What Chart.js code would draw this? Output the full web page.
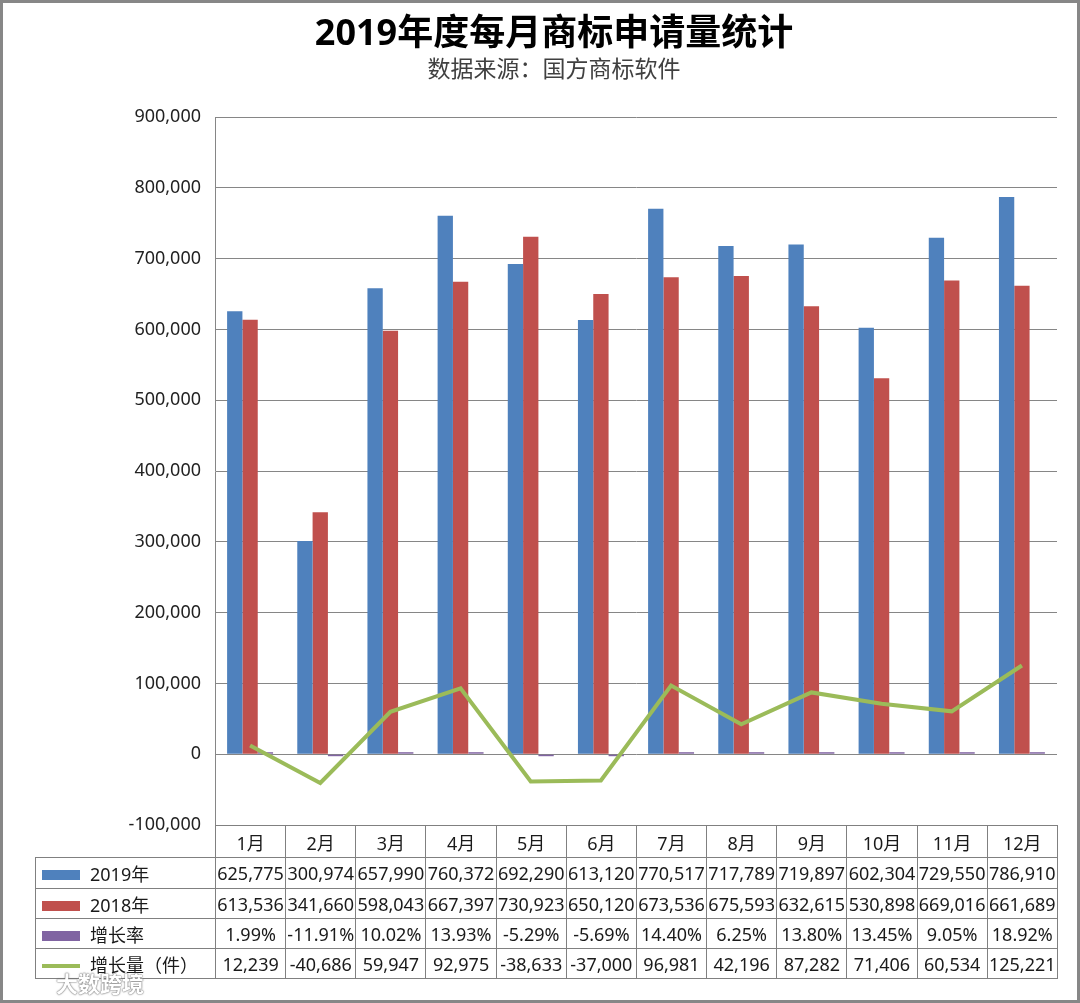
<!DOCTYPE html>
<html>
<head>
<meta charset="utf-8">
<script src="https://cdn.jsdelivr.net/npm/chart.js@4.4.0/dist/chart.umd.min.js"></script>
<style>
html, body { margin: 0; padding: 0; background: #fff; }
#wrap { position: relative; width: 1080px; height: 1003px; overflow: hidden; font-family: "Noto Sans", "Noto Sans CJK SC", sans-serif; }
#c { position: absolute; left: 0; top: 0; }
#frame { position: absolute; left: 0; top: 0; width: 1080px; height: 1003px; box-sizing: border-box; border: 3px solid #878787; pointer-events: none; }
#tbl { position: absolute; border-collapse: collapse; table-layout: fixed; font-size: 18px; color: #1a1a1a; }
#tbl td { border: 1px solid #808080; padding: 0; text-align: center; white-space: nowrap; overflow: visible; }
#tbl td.blank { border: none; border-bottom: 1px solid #808080; }
#tbl td.lab { text-align: left; padding-left: 6px; }
.key { display: inline-block; width: 38px; height: 10px; vertical-align: middle; margin-right: 10px; position: relative; top: -1px; }
.key.line { height: 4px; }
#mark { position: absolute; left: 56px; top: 966px; font-size: 22px; font-weight: bold; color: #fff; text-shadow: 0 0 2px #666, 0 0 1px #666; }
</style>
</head>
<body>
<div id="wrap">
  <canvas id="c" width="1080" height="1003"></canvas>
  <table id="tbl"></table>
  <div id="mark">大数跨境</div>
  <div id="frame"></div>
</div>
<script>
// data
var months = ['1月', '2月', '3月', '4月', '5月', '6月', '7月', '8月', '9月', '10月', '11月', '12月'];
var apps2019 = [625775, 300974, 657990, 760372, 692290, 613120, 770517, 717789, 719897, 602304, 729550, 786910];
var apps2018 = [613536, 341660, 598043, 667397, 730923, 650120, 673536, 675593, 632615, 530898, 669016, 661689];
var growthRate = [1.99, -11.91, 10.02, 13.93, -5.29, -5.69, 14.40, 6.25, 13.80, 13.45, 9.05, 18.92];
var growthCount = [12239, -40686, 59947, 92975, -38633, -37000, 96981, 42196, 87282, 71406, 60534, 125221];
var yMin = -100000, yMax = 900000, yStep = 100000;

var seriesNames = ['2019年', '2018年', '增长率', '增长量（件）'];
var colors = ['#4F81BD', '#C0504D', '#8064A2', '#9BBB59'];

var FONT = '"Noto Sans", "Noto Sans CJK SC", sans-serif';
var target = { left: 215, top: 117, right: 1057, bottom: 825 };
var padLeft = 51; // keeps the title centred where the reference has it

var ctx = document.getElementById('c').getContext('2d');

var chart = new Chart(ctx, {
    type: 'bar',
    data: {
        labels: months,
        datasets: [{
            label: seriesNames[3],
            type: 'line',
            data: growthCount,
            borderColor: colors[3],
            backgroundColor: colors[3],
            borderWidth: 4,
            pointRadius: 0,
            tension: 0,
            order: 0
        }, {
            label: seriesNames[0],
            data: apps2019,
            backgroundColor: colors[0],
            order: 1
        }, {
            label: seriesNames[1],
            data: apps2018,
            backgroundColor: colors[1],
            order: 1
        }, {
            label: seriesNames[2],
            data: growthRate.map(function (v) { return v / 100; }),
            backgroundColor: colors[2],
            minBarLength: 2,
            order: 1
        }]
    },
    options: {
        responsive: false,
        animation: false,
        locale: 'en-US',
        categoryPercentage: 0.655,
        barPercentage: 1.0,
        layout: {
            padding: { left: padLeft, top: 0, right: 23, bottom: 178 }
        },
        plugins: {
            legend: { display: false },
            tooltip: { enabled: false },
            title: {
                display: true,
                text: '2019年度每月商标申请量统计',
                color: '#000',
                font: { family: FONT, size: 36, weight: 'bold' },
                padding: { top: 13, bottom: 0 }
            },
            subtitle: {
                display: true,
                text: '数据来源：国方商标软件',
                color: '#404040',
                font: { family: FONT, size: 23 },
                padding: { top: 0, bottom: 30 }
            }
        },
        scales: {
            x: {
                display: false
            },
            y: {
                min: yMin,
                max: yMax,
                afterFit: function (s) { s.width = target.left - padLeft; },
                ticks: {
                    stepSize: yStep,
                    color: '#222',
                    padding: 14,
                    font: { family: FONT, size: 18 }
                },
                grid: {
                    color: '#868686',
                    lineWidth: 1,
                    drawTicks: false
                },
                border: {
                    display: true,
                    color: '#868686',
                    width: 1
                }
            }
        }
    }
});

// nudge the paddings so the plot area lands where the reference has it
for (var k = 0; k < 2; k++) {
    var a = chart.chartArea;
    var o = chart.config.options;
    var p = o.layout.padding;
    o.layout.padding = {
        left: padLeft,
        top: 0,
        right: p.right + a.right - target.right,
        bottom: p.bottom + a.bottom - target.bottom
    };
    o.plugins.subtitle.padding = {
        top: 0,
        bottom: o.plugins.subtitle.padding.bottom + target.top - a.top
    };
    chart.update('none');
}

// data table under the plot, lined up with the category axis
function fmt(n) { return n.toLocaleString('en-US'); }

function buildTable() {
    var a = chart.chartArea;
    var colW = (a.right - a.left) / months.length;
    var tbl = document.getElementById('tbl');
    var labW = a.left - 35;
    tbl.style.left = '35px';
    tbl.style.top = a.bottom + 'px';
    tbl.style.width = (labW + colW * months.length) + 'px';

    var html = '<colgroup><col style="width:' + labW + 'px">';
    for (var i = 0; i < months.length; i++) html += '<col style="width:' + colW + 'px">';
    html += '</colgroup>';

    html += '<tr style="height:32px"><td class="blank"></td>';
    months.forEach(function (m) { html += '<td>' + m + '</td>'; });
    html += '</tr>';

    var rows = [
        apps2019.map(fmt),
        apps2018.map(fmt),
        growthRate.map(function (v) { return v.toFixed(2) + '%'; }),
        growthCount.map(fmt)
    ];
    var heights = [31, 30, 30, 30];
    rows.forEach(function (cells, r) {
        var keyCls = r === 3 ? 'key line' : 'key';
        html += '<tr style="height:' + heights[r] + 'px"><td class="lab"><span class="' + keyCls +
            '" style="background:' + colors[r] + '"></span>' + seriesNames[r] + '</td>';
        cells.forEach(function (c) { html += '<td>' + c + '</td>'; });
        html += '</tr>';
    });
    tbl.innerHTML = html;
}
buildTable();
</script>
</body>
</html>
